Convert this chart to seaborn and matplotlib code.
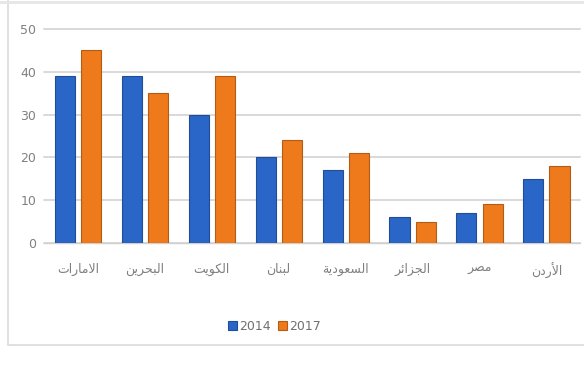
import matplotlib
matplotlib.use("Agg")
import matplotlib.pyplot as plt
import seaborn as sns
import pandas as pd

categories = ["الامارات", "البحرين", "الكويت", "لبنان", "السعودية", "الجزائر", "مصر", "الأردن"]
values_2014 = [39, 39, 30, 20, 17, 6, 7, 15]
values_2017 = [45, 35, 39, 24, 21, 5, 9, 18]
series_names = ["2014", "2017"]
y_ticks = [0, 10, 20, 30, 40, 50]

# --- minimal Arabic shaping (presentation forms + visual order) for display ---
FORMS = {
    "ا": (0xFE8D, 0xFE8E, None, None), "أ": (0xFE83, 0xFE84, None, None),
    "ب": (0xFE8F, 0xFE90, 0xFE91, 0xFE92), "ة": (0xFE93, 0xFE94, None, None),
    "ت": (0xFE95, 0xFE96, 0xFE97, 0xFE98), "ج": (0xFE9D, 0xFE9E, 0xFE9F, 0xFEA0),
    "ح": (0xFEA1, 0xFEA2, 0xFEA3, 0xFEA4), "د": (0xFEA9, 0xFEAA, None, None),
    "ر": (0xFEAD, 0xFEAE, None, None), "ز": (0xFEAF, 0xFEB0, None, None),
    "س": (0xFEB1, 0xFEB2, 0xFEB3, 0xFEB4), "ص": (0xFEB9, 0xFEBA, 0xFEBB, 0xFEBC),
    "ع": (0xFEC9, 0xFECA, 0xFECB, 0xFECC), "ك": (0xFED9, 0xFEDA, 0xFEDB, 0xFEDC),
    "ل": (0xFEDD, 0xFEDE, 0xFEDF, 0xFEE0), "م": (0xFEE1, 0xFEE2, 0xFEE3, 0xFEE4),
    "ن": (0xFEE5, 0xFEE6, 0xFEE7, 0xFEE8), "و": (0xFEED, 0xFEEE, None, None),
    "ي": (0xFEF1, 0xFEF2, 0xFEF3, 0xFEF4), "ئ": (0xFE89, 0xFE8A, 0xFE8B, 0xFE8C),
}
LAMALEF = {"ا": (0xFEFB, 0xFEFC), "أ": (0xFEF7, 0xFEF8)}


def shape(word):
    units = []
    i = 0
    while i < len(word):
        c = word[i]
        if c == "ل" and i + 1 < len(word) and word[i + 1] in LAMALEF:
            units.append(("LA", word[i + 1]))
            i += 2
        else:
            units.append(("C", c))
            i += 1

    def joins_next(u):
        if u[0] == "LA":
            return False
        f = FORMS.get(u[1])
        return f is not None and f[2] is not None

    out = []
    for k, u in enumerate(units):
        prev_j = k > 0 and joins_next(units[k - 1])
        nxt = k + 1 < len(units)
        if u[0] == "LA":
            iso, fin = LAMALEF[u[1]]
            out.append(chr(fin if prev_j else iso))
            continue
        f = FORMS.get(u[1])
        if f is None:
            out.append(u[1])
            continue
        can_next = nxt and f[2] is not None
        if prev_j and can_next:
            out.append(chr(f[3]))
        elif prev_j:
            out.append(chr(f[1]))
        elif can_next:
            out.append(chr(f[2]))
        else:
            out.append(chr(f[0]))
    return "".join(reversed(out))


df = pd.DataFrame({
    "country": categories * 2,
    "value": values_2014 + values_2017,
    "year": [series_names[0]] * len(categories) + [series_names[1]] * len(categories),
})

sns.set_theme(style="white")
plt.rcParams["font.family"] = ["DejaVu Sans"]

fig = plt.figure(figsize=(5.84, 3.67), dpi=100)
ax = fig.add_axes([0.076, 0.338, 0.917, 0.583])

palette = {"2014": "#2a66c8", "2017": "#ee7a1c"}
sns.barplot(data=df, x="country", y="value", hue="year", order=categories,
            hue_order=series_names, palette=palette, width=0.78, gap=0.23,
            saturation=1, ax=ax, legend=True, zorder=3)

for p in ax.patches:
    fc = p.get_facecolor()
    p.set_edgecolor(tuple(max(0, c * 0.75) for c in fc[:3]))
    p.set_linewidth(0.8)

ax.set_ylim(0, 50)
ax.set_yticks(y_ticks)
ax.set_yticklabels([str(t) for t in y_ticks], color="#808080", fontsize=9)
ax.set_xticks(range(len(categories)))
ax.set_xticklabels([shape(c) for c in categories], color="#808080", fontsize=9)
ax.tick_params(axis="both", length=0, pad=6)
ax.tick_params(axis="x", pad=14)
ax.set_xlabel("")
ax.set_ylabel("")
ax.yaxis.grid(True, color="#d9d9d9", linewidth=1.4, zorder=0)
for gl in ax.yaxis.get_gridlines():
    gl.set_clip_on(False)
ax.set_axisbelow(True)
for s in ["top", "right", "left"]:
    ax.spines[s].set_visible(False)
ax.spines["bottom"].set_color("#d0d0d0")
ax.spines["bottom"].set_linewidth(1.0)

leg = ax.legend(loc="center", bbox_to_anchor=(0.43, -0.39), ncol=2, frameon=False,
                fontsize=9, handlelength=0.7, handleheight=0.7, handletextpad=0.2,
                columnspacing=0.6)
for t in leg.get_texts():
    t.set_color("#707070")

# faint frame lines like the source image
fig.add_artist(plt.Line2D([0.014, 0.014], [0.06, 1.0], color="#dcdcdc", lw=1.2))
fig.add_artist(plt.Line2D([0.014, 1.0], [0.06, 0.06], color="#dcdcdc", lw=1.2))
fig.add_artist(plt.Line2D([0.0, 1.0], [0.995, 0.995], color="#e6e6e6", lw=2))

fig.savefig("out.png", dpi=100)
